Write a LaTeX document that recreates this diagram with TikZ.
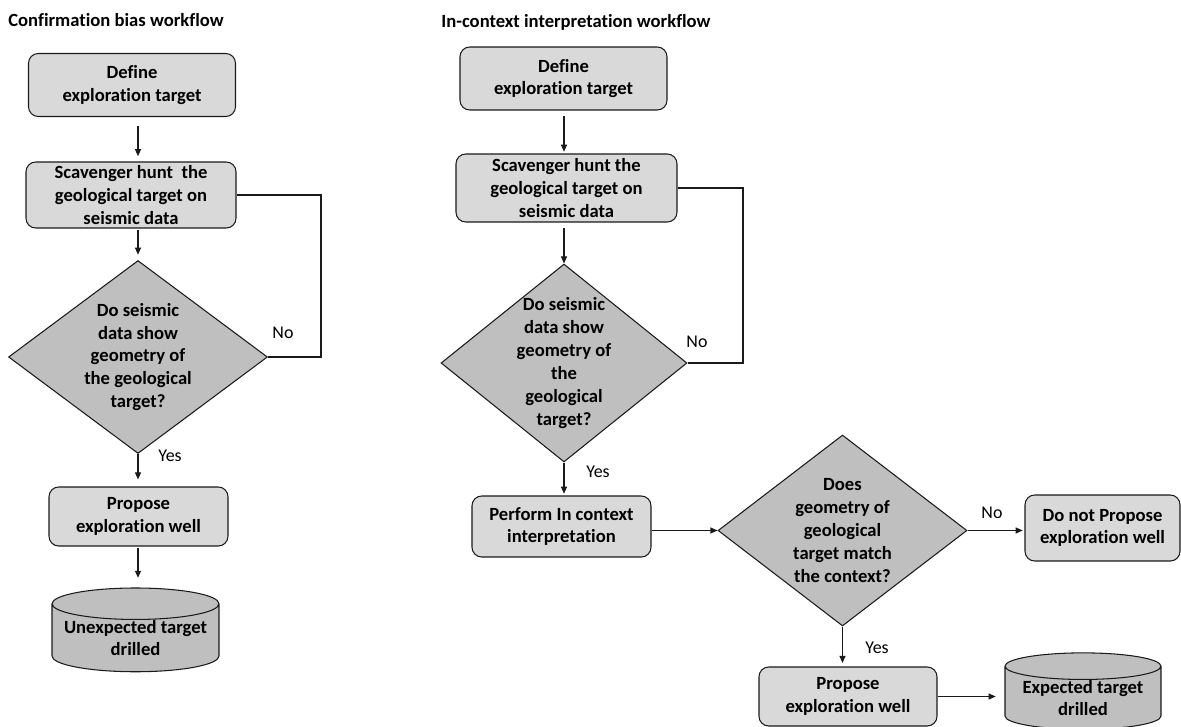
\documentclass[tikz,border=0pt]{standalone}
\usepackage{fontspec}
\setmainfont{Carlito}[Ligatures=NoCommon]
\usepackage{tikz}
\usetikzlibrary{shapes.geometric, arrows.meta, positioning, calc}
\definecolor{boxgray}{HTML}{D9D9D9}
\definecolor{diagray}{HTML}{BFBFBF}
\definecolor{darkline}{HTML}{1A1A1A}
\tikzset{
  stepbox/.style={
    rectangle, rounded corners=5.5pt,
    text centered, align=center, draw=darkline, line width=0.6pt,
    fill=boxgray, inner sep=1pt,
    font=\fontsize{10.6}{13}\selectfont\bfseries,
  },
  query/.style={
    diamond, aspect=1.3, inner sep=-5pt,
    text centered, align=center, draw=darkline, line width=0.6pt,
    fill=diagray, font=\fontsize{10.6}{13}\selectfont\bfseries,
  },
  outcome/.style={
    cylinder, shape border rotate=90, aspect=0.22, inner sep=0pt,
    text centered, align=center, draw=darkline, line width=0.6pt,
    fill=diagray, font=\fontsize{10.6}{13}\selectfont\bfseries,
  },
  heading/.style={anchor=base west, inner sep=0pt,
    font=\fontsize{10.6}{13}\selectfont\bfseries},
  arrow/.style={-{Triangle[length=4pt, width=3.4pt]}, line width=0.6pt, color=darkline},
  link/.style={line width=0.6pt, color=darkline},
  yes/.style={font=\fontsize{10.2}{12}\selectfont},
  no/.style={font=\fontsize{10.2}{12}\selectfont},
}

\begin{document}
\begin{tikzpicture}[x=0.02cm, y=-0.02cm]

  \useasboundingbox[fill=white] (0,0) rectangle (1181,727);

  % confirmation bias workflow
  \node[heading] (title1) at (8,26) {Confirmation bias workflow};
  \node[stepbox, minimum width=4.14cm, minimum height=1.26cm] (def1) at (132,85) {Define\\exploration target};
  \node[stepbox, minimum width=4.2cm, minimum height=1.32cm] (scav1) at (131,195) {Scavenger hunt\ \ the\\geological target on\\seismic data};
  \node[query, minimum width=5.18cm, minimum height=3.86cm] (chk1) at (138,357) {Do seismic\\data show\\geometry of\\the geological\\target?};
  \node[stepbox, minimum width=3.58cm, minimum height=1.18cm] (prop1) at (138.5,516.5) {Propose\\exploration well};
  \node[outcome, minimum width=3.34cm, minimum height=1.5cm] (drill1) at (135.5,638) {Unexpected target\\drilled};
  \coordinate (turn1) at (321,357);
  \node[no] (no1) at (283,333) {No};
  \node[yes] (yes1) at (170,456) {Yes};

  \draw[arrow, shorten <=5pt, shorten >=3pt] (def1.south -| chk1.north) -- (scav1.north -| chk1.north);
  \draw[arrow, shorten <=1pt, shorten >=3pt] (scav1.south -| chk1.north) -- (chk1.north);
  \draw[arrow, shorten >=4pt] (chk1.south) -- (prop1.north -| chk1.south);
  \draw[arrow, shorten <=1pt, shorten >=5.5pt] (prop1.south -| chk1.south) -- (drill1.north -| chk1.south);
  \draw[link] (chk1.east) -- (turn1) |- (scav1.east);

  % in-context interpretation workflow
  \node[heading] (title2) at (441,27) {In-context interpretation workflow};
  \node[stepbox, minimum width=4.14cm, minimum height=1.26cm] (def2) at (563.5,78.5) {Define\\exploration target};
  \node[stepbox, minimum width=4.42cm, minimum height=1.36cm] (scav2) at (566.5,188) {Scavenger hunt the\\geological target on\\seismic data};
  \node[query, minimum width=4.92cm, minimum height=3.96cm] (chk2) at (564,363) {Do seismic\\data show\\geometry of\\the\\geological\\target?};
  \node[stepbox, minimum width=3.58cm, minimum height=1.22cm] (perf) at (561.5,526.5) {Perform In context\\interpretation};
  \node[query, minimum width=4.98cm, minimum height=3.82cm] (chk3) at (842.5,530.5) {Does\\geometry of\\geological\\target match\\the context?};
  \node[stepbox, minimum width=3.1cm, minimum height=1.32cm] (nogo) at (1102.5,528) {Do not Propose\\exploration well};
  \node[stepbox, minimum width=3.56cm, minimum height=1.18cm] (prop2) at (848,696.5) {Propose\\exploration well};
  \node[outcome, minimum width=3.12cm, minimum height=1.3cm] (drill2) at (1083,698) {Expected target\\drilled};
  \coordinate (turn2) at (743,363);
  \node[no] (no2) at (697,342) {No};
  \node[yes] (yes2) at (598,472) {Yes};
  \node[no] (no3) at (992,513) {No};
  \node[yes] (yes3) at (877,648) {Yes};

  \draw[arrow, shorten <=3pt, shorten >=1pt] (def2.south -| chk2.north) -- (scav2.north -| chk2.north);
  \draw[arrow, shorten <=3pt] (scav2.south -| chk2.north) -- (chk2.north);
  \draw[arrow, shorten >=1pt] (chk2.south) -- (perf.north -| chk2.south);
  \draw[arrow] (perf.east |- chk3.west) -- (chk3.west);
  \draw[link] (chk2.east) -- (turn2) |- (scav2.east);
  \draw[arrow, shorten >=1pt] (chk3.east) -- (nogo.west |- chk3.east);
  \draw[arrow, shorten >=2pt] (chk3.south) -- (prop2.north -| chk3.south);
  \draw[arrow, shorten >=5pt] (prop2.east) -- (drill2.west |- prop2.east);

\end{tikzpicture}
\end{document}
